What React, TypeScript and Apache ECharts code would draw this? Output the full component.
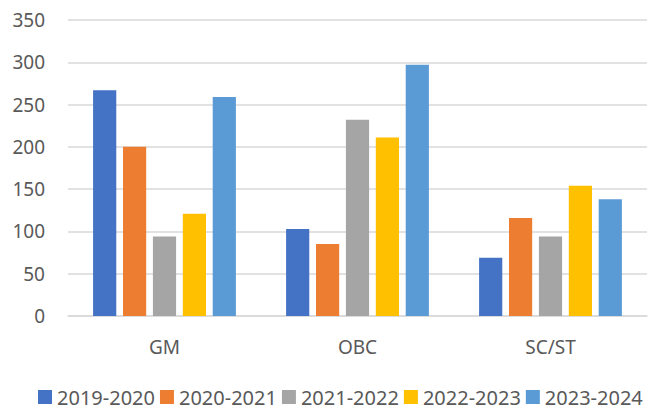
import React, { useEffect, useRef } from "react";
import * as echarts from "echarts";

const categories = ["GM", "OBC", "SC/ST"];
const seriesNames = ["2019-2020", "2020-2021", "2021-2022", "2022-2023", "2023-2024"];
const s2019 = [267, 103, 69];
const s2020 = [200, 85, 116];
const s2021 = [94, 232, 94];
const s2022 = [121, 211, 154];
const s2023 = [259, 297, 138];
const seriesValues = [s2019, s2020, s2021, s2022, s2023];
const colors = ["#4472C4", "#ED7D31", "#A5A5A5", "#FFC000", "#5B9BD5"];

const FONT = "Noto Sans";

export default function App() {
  const ref = useRef<HTMLDivElement>(null);
  useEffect(() => {
    if (!ref.current) return;
    const chart = echarts.init(ref.current, undefined, { renderer: "svg" });
    chart.setOption({
      animation: false,
      color: colors,
      grid: { left: 68, right: 3, top: 20, bottom: 94 },
      legend: {
        left: 38,
        top: 386,
        padding: 0,
        itemWidth: 14,
        itemHeight: 14,
        itemGap: 5,
        icon: "rect",
        textStyle: { fontFamily: FONT, fontSize: 20, lineHeight: 22, color: "#595959" },
        data: seriesNames,
      },
      xAxis: {
        type: "category",
        data: categories,
        axisLine: { lineStyle: { color: "#D9D9D9", width: 1.5 } },
        axisTick: { show: false },
        axisLabel: { fontFamily: FONT, fontSize: 19, color: "#595959", margin: 21 },
      },
      yAxis: {
        type: "value",
        min: 0,
        max: 350,
        interval: 50,
        axisLine: { show: false },
        axisTick: { show: false },
        splitLine: { lineStyle: { color: "#D9D9D9", width: 1.5 } },
        axisLabel: { fontFamily: FONT, fontSize: 19, color: "#595959", margin: 23 },
      },
      series: seriesNames.map((name, i) => ({
        name,
        type: "bar",
        data: seriesValues[i],
        barGap: "29%",
        barCategoryGap: "26%",
        itemStyle: { color: colors[i] },
      })),
    });
    return () => chart.dispose();
  }, []);
  return <div ref={ref} style={{ width: 650, height: 410, position: "absolute", left: 0, top: 0 }} />;
}
